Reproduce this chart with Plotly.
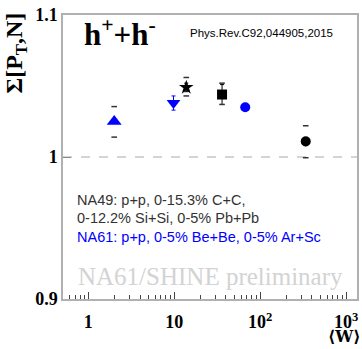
import plotly.graph_objects as go

# ---- data ----
labels = ["NA61 p+p", "NA61 Be+Be", "NA49 C+C", "NA49 Si+Si", "NA61 Ar+Sc", "NA49 Pb+Pb"]
w_mean = [2.0, 9.8, 13.8, 36.0, 67.0, 339.0]
sigma = [1.025, 1.038, 1.049, 1.044, 1.035, 1.011]
stat_err = [0.001, 0.005, 0.003, 0.007, 0.001, 0.003]
sys_hi = [1.0355, None, 1.056, 1.052, None, 1.022]
sys_lo = [1.014, None, 1.043, 1.037, None, 0.9995]
symbols = ["triangle-up", "triangle-down", "star", "square", "circle", "circle"]
colors = ["#0000ff", "#0000ff", "#000000", "#000000", "#0000ff", "#000000"]
sizes = [13, 12, 11, 10, 10, 10]

x_tickvals = [1, 10, 100, 1000]
x_ticktext = ["1", "10", "10<sup>2</sup>", "10<sup>3</sup>"]
x_minor_vals = [0.6, 0.7, 0.8, 0.9, 2, 3, 4, 5, 6, 7, 8, 9, 20, 30, 40, 50, 60, 70, 80, 90,
                200, 300, 400, 500, 600, 700, 800, 900]
y_tickvals = [0.9, 1.0, 1.1]
y_ticktext = ["0.9", "1", "1.1"]
ref_value = 1.0

fig = go.Figure()

for i in range(len(w_mean)):
    fig.add_trace(go.Scatter(
        x=[w_mean[i]], y=[sigma[i]], mode="markers",
        marker=dict(symbol=symbols[i], color=colors[i], size=sizes[i], line=dict(width=0)),
        error_y=dict(type="data", array=[stat_err[i]], color=colors[i], thickness=1, width=2),
        showlegend=False, name=labels[i]))

sx = [w for w, h in zip(w_mean, sys_hi) if h is not None]
sy_hi = [h for h in sys_hi if h is not None]
sy_lo = [l for l in sys_lo if l is not None]
fig.add_trace(go.Scatter(x=sx + sx, y=sy_hi + sy_lo, mode="markers",
                         marker=dict(symbol="line-ew-open", size=4, color="#333333",
                                     line=dict(width=1.5, color="#333333")),
                         showlegend=False, hoverinfo="skip"))

fig.add_shape(type="line", xref="paper", x0=0, x1=1, yref="y", y0=ref_value, y1=ref_value,
              line=dict(color="#aaaaaa", width=1, dash="dash"), layer="below")

fig.update_layout(
    width=362, height=349,
    margin=dict(l=63, r=3, t=15, b=50),
    plot_bgcolor="white", paper_bgcolor="white",
    hovermode=False,
    xaxis=dict(type="log", range=[-0.295, 3.127], tickvals=x_tickvals, ticktext=x_ticktext,
               ticks="inside", ticklen=7, tickcolor="#444", showgrid=False, zeroline=False,
               showline=True, linecolor="#b0b0b0", linewidth=1.5, mirror=True,
               tickfont=dict(family="Liberation Serif", size=18, color="black", weight="bold"),
               ticklabelstandoff=6,
               minor=dict(tickvals=x_minor_vals, ticks="inside", ticklen=4, tickcolor="#444", showgrid=False)),
    yaxis=dict(range=[0.9, 1.1], tickvals=y_tickvals, ticktext=y_ticktext,
               ticks="inside", ticklen=8, tickcolor="#888", showgrid=False, zeroline=False,
               showline=True, linecolor="#b0b0b0", linewidth=1.5, mirror=True,
               tickfont=dict(family="Liberation Serif", size=18, color="black", weight="bold")),
)

fig.add_annotation(xref="paper", yref="paper", x=(16 - 63) / 296, y=1.015, xanchor="center", yanchor="top",
                   text="<b>Σ[P<sub>T</sub>,N]</b>", textangle=-90, showarrow=False,
                   font=dict(family="Liberation Serif", size=24, color="black"))
fig.add_annotation(xref="paper", yref="paper", x=(346 - 63) / 296, y=(299 - 336) / 284, xanchor="center", yanchor="middle",
                   text="<b>⟨W⟩</b>", showarrow=False,
                   font=dict(family="DejaVu Serif", size=16, color="black"))
fig.add_annotation(xref="paper", yref="paper", x=(82 - 63) / 296, y=(299 - 32) / 284, xanchor="left", yanchor="middle",
                   text="<b>h<sup>+</sup>+h<sup>-</sup></b>", showarrow=False,
                   font=dict(family="Liberation Serif", size=31, color="black"))
fig.add_annotation(xref="paper", yref="paper", x=(189 - 63) / 296, y=(299 - 33) / 284, xanchor="left", yanchor="middle",
                   text="Phys.Rev.C92,044905,2015", showarrow=False,
                   font=dict(family="Liberation Sans", size=11.5, color="black"))
lines = [("NA49: p+p, 0-15.3% C+C,", "#333333", 200),
         ("0-12.2% Si+Si, 0-5% Pb+Pb", "#333333", 218),
         ("NA61: p+p, 0-5% Be+Be, 0-5% Ar+Sc", "#0000ff", 237)]
for t, c, yy in lines:
    fig.add_annotation(xref="paper", yref="paper", x=(75 - 63) / 296, y=(299 - yy) / 284, xanchor="left", yanchor="middle",
                       text=t, showarrow=False, font=dict(family="Liberation Sans", size=14.5, color=c))
fig.add_annotation(xref="paper", yref="paper", x=(211 - 63) / 296, y=(299 - 276) / 284, xanchor="center", yanchor="middle",
                   text="NA61/SHINE preliminary", showarrow=False,
                   font=dict(family="Liberation Serif", size=25, color="#d3d3d3"))

fig.write_html("out.html", config={"displayModeBar": False},
               post_script="document.body.style.margin='0';document.body.style.padding='0';")
